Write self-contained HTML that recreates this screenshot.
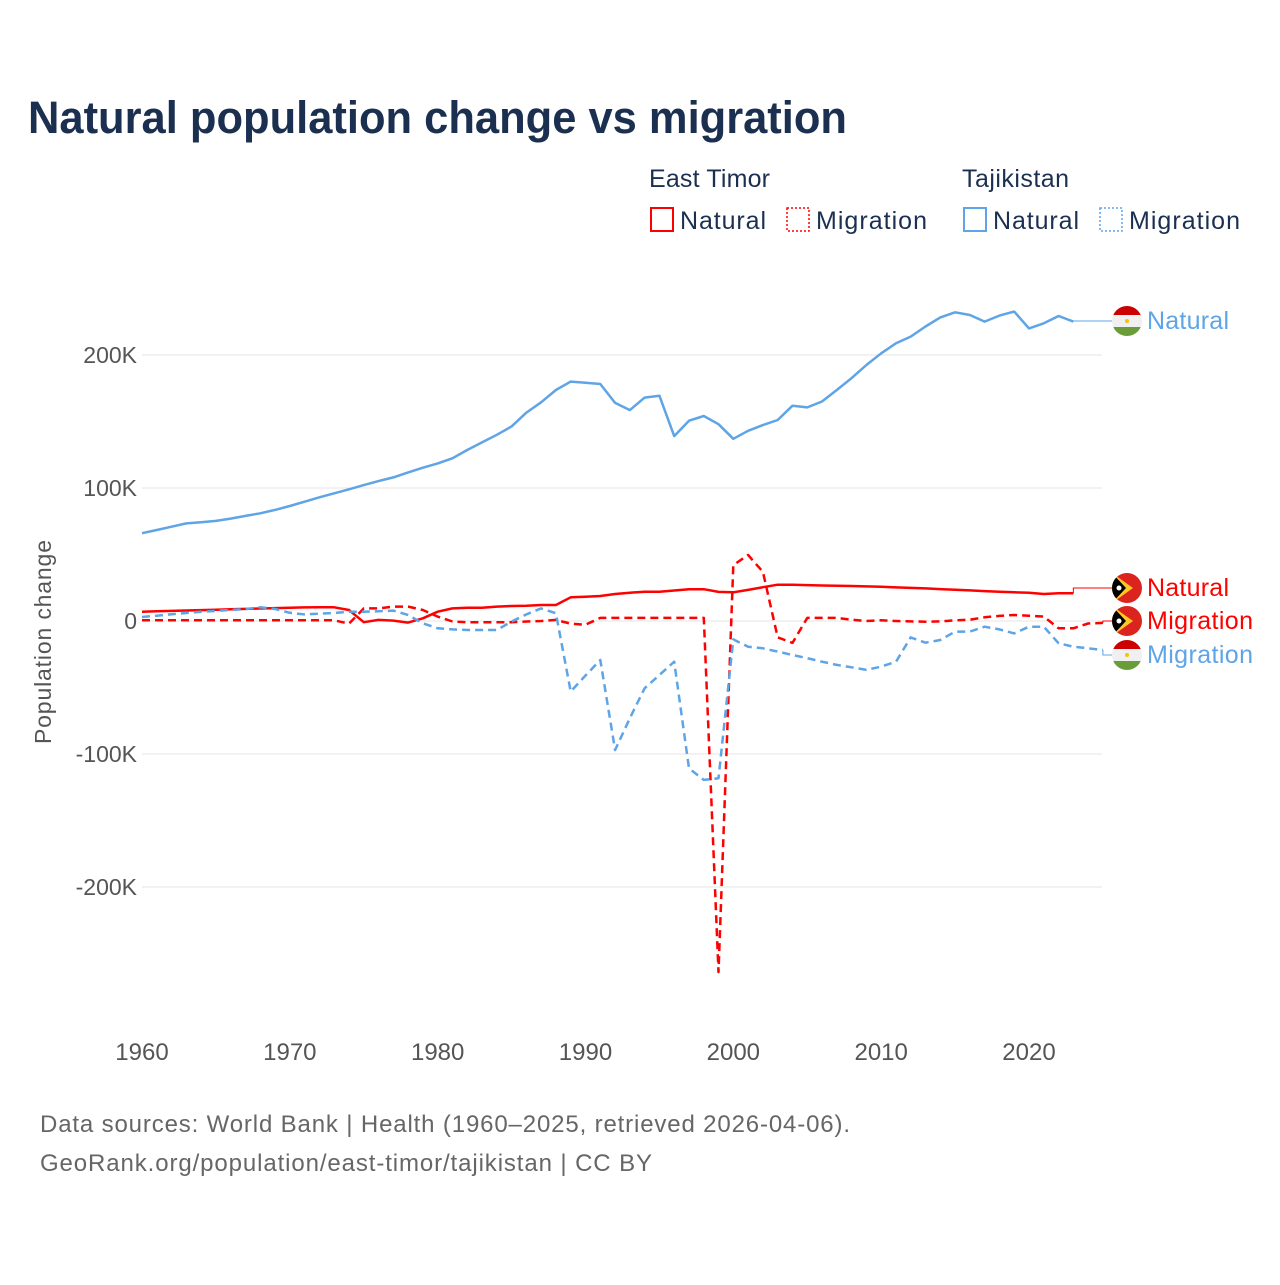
<!DOCTYPE html>
<html><head><meta charset="utf-8">
<style>
html,body{margin:0;padding:0;background:#fff;}
body{width:1280px;height:1280px;overflow:hidden;font-family:"Liberation Sans",sans-serif;}
</style></head>
<body>
<svg id="chart" width="1280" height="1280" xmlns="http://www.w3.org/2000/svg" font-family="Liberation Sans, sans-serif">
<rect width="1280" height="1280" fill="#fff"/>
<text x="28" y="133" font-size="45" font-weight="bold" fill="#1b3050" textLength="819" lengthAdjust="spacingAndGlyphs">Natural population change vs migration</text>
<g font-size="25" fill="#1b3050">
<text x="649" y="187" textLength="121">East Timor</text>
<text x="962" y="187" textLength="107">Tajikistan</text>
<g><rect x="651" y="208" width="22" height="23" fill="none" stroke="#f00" stroke-width="2"/><text x="680" y="229" textLength="86">Natural</text></g>
<g><rect x="787" y="208" width="22" height="23" fill="none" stroke="#f00" stroke-width="1.5" stroke-dasharray="2,2"/><text x="816" y="229" textLength="111">Migration</text></g>
<g><rect x="964" y="208" width="22" height="23" fill="none" stroke="#5ea4e6" stroke-width="2"/><text x="993" y="229" textLength="86">Natural</text></g>
<g><rect x="1100" y="208" width="22" height="23" fill="none" stroke="#5ea4e6" stroke-width="1.5" stroke-dasharray="2,2"/><text x="1129" y="229" textLength="111">Migration</text></g>
</g>
<g id="grid"></g>
<g id="yticks" font-size="23" fill="#555" text-anchor="end"></g>
<g id="xticks" font-size="24" fill="#555" text-anchor="middle"></g>
<text transform="translate(51,642) rotate(-90)" font-size="23" fill="#555" text-anchor="middle" textLength="204">Population change</text>
<g id="series"></g>
<g id="labels" font-size="25"></g>
<text x="40" y="1132" font-size="24" fill="#666" textLength="810">Data sources: World Bank | Health (1960–2025, retrieved 2026-04-06).</text>
<text x="40" y="1171" font-size="24" fill="#666" textLength="612">GeoRank.org/population/east-timor/tajikistan | CC BY</text>
</svg>
<script>
const yTicks=[200,100,0,-100,-200];
const yTickLabels=["200K","100K","0","-100K","-200K"];
const xTicks=[1960,1970,1980,1990,2000,2010,2020];
const tjNaturalYears=[];for(let y=1960;y<=2023;y++)tjNaturalYears.push(y);
const tjNatural=[66,68.4,70.9,73.4,74.2,75.3,77,79,81,83.5,86.5,89.7,93,96,99,102.2,105.2,108,111.7,115.3,118.5,122.3,128.6,134.3,140,146.3,156.7,164.4,173.7,180,179.2,178.2,164,158.6,168,169.4,139,150.6,154.1,148,137,143,147.3,151.1,161.9,160.6,165,173.7,182.6,192.5,201.3,208.8,213.8,221.4,228.3,232.1,230.1,225.1,229.6,232.6,220,223.8,229.3,225.1];
const etNatural=[7,7.3,7.6,7.9,8.2,8.5,8.8,9.1,9.4,9.7,10,10.2,10.3,10.3,8.3,-0.9,0.8,0.3,-1.2,2,7,9.5,10,10,10.8,11.3,11.5,12,12,17.8,18.3,18.8,20.3,21.3,22,22,22.9,23.9,23.9,21.9,21.6,23.4,25.4,27.3,27.3,27,26.7,26.5,26.3,26,25.7,25.3,24.9,24.5,24,23.5,23,22.5,22,21.6,21.3,20.3,20.8,20.8];
const migYears=[];for(let y=1960;y<=2025;y++)migYears.push(y);
const etMigration=[0.5,0.5,0.5,0.5,0.5,0.5,0.5,0.5,0.5,0.5,0.5,0.5,0.5,0.5,-2,9.5,9.5,10.8,10.8,8.3,3.3,-0.4,-0.9,-0.9,-0.9,-0.9,-0.4,0,0.8,-2,-2.8,2.3,2.3,2.3,2.3,2.3,2.3,2.3,2.3,-264,42,49.6,37,-12.3,-16.5,2.3,2.3,2.3,1,0,0.5,0,-0.3,-0.5,-0.3,0.5,1,2.8,3.8,4.5,4,3.3,-5.5,-5.5,-1.9,-1.4];
const tjMigration=[3,4,5.1,6,7,7.6,8.3,9,10.3,9,6.2,5,5.5,6,7,7,7.4,7.8,4.5,-1.8,-5.5,-6.3,-6.8,-6.8,-6.8,-0.4,5,9.5,5.8,-53,-41,-29.3,-97,-73,-50.6,-40.6,-30.6,-110.8,-119.5,-118.3,-13.8,-19.3,-20.5,-23,-25.6,-28,-30.6,-33,-34.8,-36.8,-34.3,-30.6,-12.3,-16.3,-14.3,-8,-8,-4.3,-6.3,-9.3,-4.3,-4.3,-16.8,-19.3,-20.5,-21.8];

const NS="http://www.w3.org/2000/svg";
const X=yr=>142+(yr-1960)*(1029-142)/60;
const Y=v=>621-v*1.33;
function mk(tag,attrs,parent){const e=document.createElementNS(NS,tag);for(const k in attrs)e.setAttribute(k,attrs[k]);parent.appendChild(e);return e;}
const grid=document.getElementById('grid'),yt=document.getElementById('yticks'),xt=document.getElementById('xticks');
yTicks.forEach((t,i)=>{
  const l=mk('line',{x1:142,x2:1102,y1:Y(t),y2:Y(t),stroke:'#e6e6e6','stroke-width':1},grid);
  
  
  const tx=mk('text',{x:137,y:Y(t)+8},yt);tx.textContent=yTickLabels[i];
  
  
});
xTicks.forEach(t=>{
  const tx=mk('text',{x:X(t),y:1060},xt);tx.textContent=t;
  
  
});
const ser=document.getElementById('series');
function line(years,vals,color,dash,name,labelY){
  const d=vals.map((v,i)=>(i?'L':'M')+X(years[i]).toFixed(1)+','+Y(v).toFixed(1)).join('');
  const p=mk('path',{d:d,fill:'none',stroke:color,'stroke-width':2.5,'stroke-linejoin':'round'},ser);
  if(dash)p.setAttribute('stroke-dasharray','8,5');
  
  
  const lx=X(years[years.length-1]),ly=Y(vals[vals.length-1]);
  const c=mk('path',{d:`M${lx},${ly}L${lx},${labelY}L1112,${labelY}`,fill:'none',stroke:color,'stroke-width':1},ser);
  
  
}
line(tjNaturalYears,tjNatural,'#5ea4e6',false,'tajikistan-natural-line',321);
line(tjNaturalYears,etNatural,'#f00',false,'east-timor-natural-line',588);
line(migYears,etMigration,'#f00',true,'east-timor-migration-line',621);
line(migYears,tjMigration,'#5ea4e6',true,'tajikistan-migration-line',655);
const lab=document.getElementById('labels');
function flag(kind,cy,text,color,name,w){
  const g=mk('g',{},lab);
  
  
  const cx=1127,r=15;
  const id='c'+cy;
  const cp=mk('clipPath',{id:id},g);mk('circle',{cx:cx,cy:cy,r:r},cp);
  const fg=mk('g',{'clip-path':`url(#${id})`},g);
  if(kind==='tl'){
    mk('rect',{x:cx-r,y:cy-r,width:2*r,height:2*r,fill:'#dc241f'},fg);
    mk('polygon',{points:`${cx-r},${cy-r} ${cx+6},${cy} ${cx-r},${cy+r}`,fill:'#ffc726'},fg);
    mk('polygon',{points:`${cx-r},${cy-r} ${cx-1},${cy} ${cx-r},${cy+r}`,fill:'#000'},fg);
    mk('circle',{cx:cx-8,cy:cy,r:2.5,fill:'#fff'},fg);
  }else{
    mk('rect',{x:cx-r,y:cy-r,width:2*r,height:9,fill:'#cc0000'},fg);
    mk('rect',{x:cx-r,y:cy-r+9,width:2*r,height:12,fill:'#f0f0f0'},fg);
    mk('rect',{x:cx-r,y:cy+6,width:2*r,height:9,fill:'#6a9d3a'},fg);
    mk('circle',{cx:cx,cy:cy,r:2,fill:'#f8c300'},fg);
  }
  const t=mk('text',{x:1147,y:cy+8,fill:color,textLength:w},g);t.textContent=text;
}
flag('tj',321,'Natural','#5ea4e6','label-tajikistan-natural',82);
flag('tl',588,'Natural','#f00','label-east-timor-natural',82);
flag('tl',621,'Migration','#f00','label-east-timor-migration',106);
flag('tj',655,'Migration','#5ea4e6','label-tajikistan-migration',106);
</script>
</body></html>
